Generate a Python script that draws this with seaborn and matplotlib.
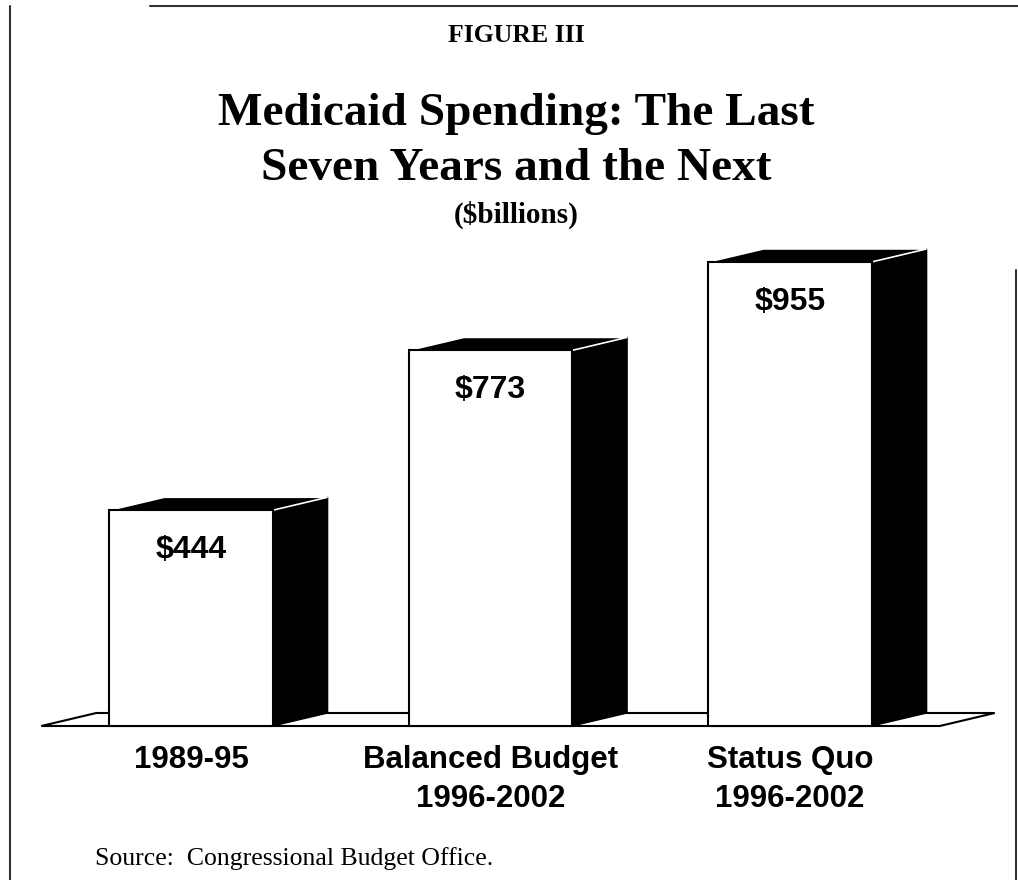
import matplotlib
matplotlib.use("Agg")
import matplotlib.pyplot as plt
from matplotlib.patches import Polygon
from matplotlib.lines import Line2D
import pandas as pd
import seaborn as sns

# Data
categories = ["1989-95", "Balanced Budget\n1996-2002", "Status Quo\n1996-2002"]
spending = [444, 773, 955]
value_labels = ["$444", "$773", "$955"]

title_lines = ["Medicaid Spending: The Last", "Seven Years and the Next"]
subtitle = "($billions)"
figure_tag = "FIGURE III"
source = "Source:  Congressional Budget Office."

df = pd.DataFrame({"period": categories, "spending": spending})

# Figure size in pixels
W, H = 1018, 880
DPI = 100

sns.set_theme(style="white")
plt.rcParams["font.family"] = ["Liberation Sans", "DejaVu Sans"]
plt.rcParams["text.color"] = "black"

fig = plt.figure(figsize=(W / DPI, H / DPI), dpi=DPI)
fig.patch.set_facecolor("white")
ax = fig.add_axes([0, 0, 1, 1])
ax.set_facecolor("white")

# Front faces of the bars
sns.barplot(data=df, x="period", y="spending", color="white", saturation=1,
            edgecolor="black", linewidth=1.5, width=0.545, ax=ax, zorder=3)

# scale: pixels per category step and pixels per $billion
px_per_cat = 299.5
px_per_unit = 0.4859
x0_px, y0_px = 191, 726
ax.set_xlim(-x0_px / px_per_cat, (W - x0_px) / px_per_cat)
ax.set_ylim(-(H - y0_px) / px_per_unit, y0_px / px_per_unit)
ax.set_axis_off()

# 3D depth offset (in data units)
dx = 55 / px_per_cat
dy = 13 / px_per_unit

# Floor
n = len(categories)
floor = Polygon([(-0.5, 0), (n - 0.5, 0), (n - 0.5 + dx, dy), (-0.5 + dx, dy)],
                closed=True, facecolor="white", edgecolor="black", lw=1.5, zorder=1)
ax.add_patch(floor)

# Side and top faces for each bar
for patch, label in zip(ax.patches[:n], value_labels):
    x = patch.get_x()
    w = patch.get_width()
    h = patch.get_height()
    side = Polygon([(x + w, 0), (x + w + dx, dy), (x + w + dx, h + dy), (x + w, h)],
                   closed=True, facecolor="black", edgecolor="black", lw=1, zorder=2)
    top = Polygon([(x, h), (x + w, h), (x + w + dx, h + dy), (x + dx, h + dy)],
                  closed=True, facecolor="black", edgecolor="white", lw=1.2, zorder=2.5)
    ax.add_patch(side)
    ax.add_patch(top)
    ax.text(x + w / 2, h - 40 / px_per_unit, label, ha="center", va="center",
            fontsize=23, fontweight="bold", color="black", zorder=4)

# Category labels under the floor
for i, cat in enumerate(categories):
    for j, line in enumerate(cat.split("\n")):
        ax.text(i, -(42 + 39 * j) / px_per_unit, line, ha="center", va="baseline",
                fontsize=22.5, fontweight="bold", color="black")

# Titles
serif = ["Liberation Serif", "DejaVu Serif"]
cx = 516 / W
fig.text(cx, 1 - 36 / H, figure_tag, ha="center", va="center",
         family=serif, fontweight="bold", fontsize=18.5)
fig.text(cx, 1 - 125 / H, title_lines[0], ha="center", va="baseline",
         family=serif, fontweight="bold", fontsize=34)
fig.text(cx, 1 - 180 / H, title_lines[1], ha="center", va="baseline",
         family=serif, fontweight="bold", fontsize=34)
fig.text(cx, 1 - 223 / H, subtitle, ha="center", va="baseline",
         family=serif, fontweight="bold", fontsize=21)
fig.text(95 / W, 1 - 865 / H, source, ha="left", va="baseline",
         family=serif, fontsize=18.5)

# Scanned frame lines
frame_kw = dict(color="#333333", lw=1.5, transform=fig.transFigure)
fig.add_artist(Line2D([150 / W, 1.0], [1 - 6 / H, 1 - 6 / H], **frame_kw))
fig.add_artist(Line2D([10 / W, 10 / W], [1 - 6 / H, 0], **frame_kw))
fig.add_artist(Line2D([1016 / W, 1016 / W], [1 - 270 / H, 0], **frame_kw))

fig.savefig("out.png", dpi=DPI, facecolor="white")
